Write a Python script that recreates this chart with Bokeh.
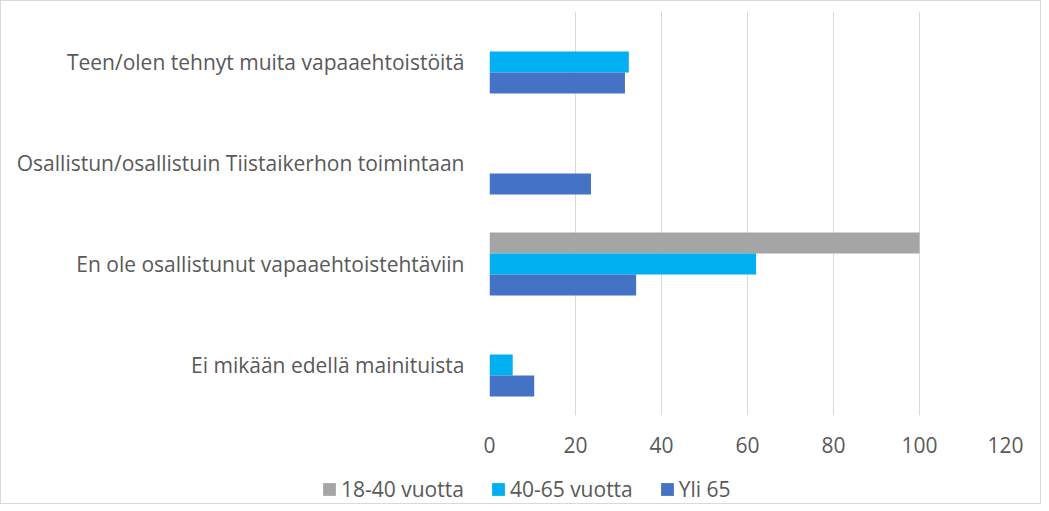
from bokeh.plotting import figure
from bokeh.models import FactorRange, Legend, LegendItem, ColumnDataSource, FixedTicker, Range1d
from bokeh.layouts import column
from bokeh.transform import dodge
from bokeh.embed import file_html
from bokeh.resources import INLINE

categories = [
    "Teen/olen tehnyt muita vapaaehtoistöitä",
    "Osallistun/osallistuin Tiistaikerhon toimintaan",
    "En ole osallistunut vapaaehtoistehtäviin",
    "Ei mikään edellä mainituista",
]
series_names = ["18-40 vuotta", "40-65 vuotta", "Yli 65"]
v_18_40 = [0, 0, 100, 0]
v_40_65 = [32.4, 0, 62.0, 5.4]
v_yli65 = [31.5, 23.6, 34.1, 10.4]
x_ticks = [0, 20, 40, 60, 80, 100, 120]

colors = ["#A5A5A5", "#00B0F0", "#4472C4"]
FONT = "Open Sans"
TXT = "#595959"
FS = "21px"

src = ColumnDataSource(dict(cat=categories, a=v_18_40, b=v_40_65, c=v_yli65))

p = figure(
    width=1039, height=473,
    y_range=FactorRange(*list(reversed(categories))),
    x_range=Range1d(0, 120),
    output_backend="svg", toolbar_location=None,
    min_border_left=488, min_border_right=35,
    min_border_top=10, min_border_bottom=59,
)
p.outline_line_color = None

bh = 0.208
offs = [bh, 0.0, -bh]
rends = []
for col, off, color in zip(["a", "b", "c"], offs, colors):
    r = p.hbar(y=dodge("cat", off, range=p.y_range), right=col, left=0, height=bh,
               source=src, fill_color=color, line_color=None)
    rends.append(r)

p.xaxis.ticker = FixedTicker(ticks=x_ticks)
p.xaxis.axis_line_color = None
p.xaxis.major_tick_line_color = None
p.xaxis.minor_tick_line_color = None
p.xaxis.major_label_standoff = 15
p.xaxis.major_label_text_font = FONT
p.xaxis.major_label_text_font_size = FS
p.xaxis.major_label_text_color = TXT

p.yaxis.axis_line_color = None
p.yaxis.major_tick_line_color = None
p.yaxis.minor_tick_line_color = None
p.yaxis.major_label_standoff = 19
p.yaxis.major_label_text_font = FONT
p.yaxis.major_label_text_font_size = FS
p.yaxis.major_label_text_color = TXT

p.ygrid.grid_line_color = None
p.xgrid.grid_line_color = "#D9D9D9"
p.xgrid.grid_line_width = 1

# legend strip below the chart (dummy swatches kept out of view)
lp = figure(
    width=1039, height=29,
    x_range=Range1d(0, 1), y_range=Range1d(0, 1),
    x_axis_type=None, y_axis_type=None,
    output_backend="svg", toolbar_location=None,
    min_border_left=0, min_border_right=0, min_border_top=0, min_border_bottom=0,
)
lp.outline_line_color = None
lp.xgrid.grid_line_color = None
lp.ygrid.grid_line_color = None
lrends = [lp.hbar(y=[-5], left=[-3], right=[-2], height=1, fill_color=c, line_color=None)
          for c in colors]

legend = Legend(
    items=[LegendItem(label=n, renderers=[r]) for n, r in zip(series_names, lrends)],
    orientation="horizontal",
    location=(320, 0),
    padding=0, margin=0, spacing=26,
    label_standoff=4, glyph_width=16, glyph_height=16,
    label_text_font=FONT, label_text_font_size=FS, label_text_color=TXT,
    border_line_color=None, background_fill_alpha=0,
)
lp.add_layout(legend, "center")

layout = column(column(p), column(lp), styles={"border": "1px solid #D9D9D9"})

open("out.html", "w").write(file_html(layout, INLINE))
